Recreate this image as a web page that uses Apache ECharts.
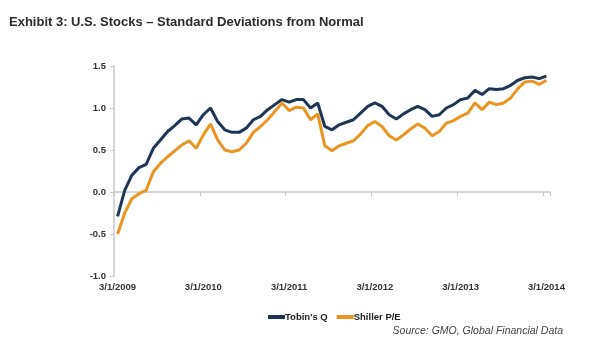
<!DOCTYPE html>
<html>
<head>
<meta charset="utf-8">
<script src="https://cdn.jsdelivr.net/npm/echarts@6/dist/echarts.min.js"></script>
<style>
  html, body { margin: 0; padding: 0; background: #fff; }
  #chart { width: 600px; height: 353px; }
</style>
</head>
<body>
<div id="chart"></div>
<script>
// monthly points, 3/1/2009 .. 3/1/2014
const months = [];
for (let y = 2009; y <= 2014; y++) {
  for (let m = 1; m <= 12; m++) {
    if ((y === 2009 && m < 3) || (y === 2014 && m > 3)) continue;
    months.push(m + '/1/' + y);
  }
}

const tobinsQ = [
  -0.29, 0.02, 0.20, 0.29, 0.33, 0.52, 0.62, 0.72, 0.79, 0.87,
  0.88, 0.80, 0.92, 1.00, 0.84, 0.74, 0.71, 0.71, 0.76, 0.86,
  0.90, 0.98, 1.04, 1.10, 1.07, 1.10, 1.10, 1.00, 1.06, 0.78,
  0.74, 0.80, 0.83, 0.86, 0.94, 1.02, 1.06, 1.02, 0.92, 0.87,
  0.93, 0.98, 1.02, 0.98, 0.90, 0.92, 1.00, 1.04, 1.10, 1.12,
  1.21, 1.16, 1.23, 1.22, 1.23, 1.27, 1.33, 1.36, 1.37, 1.35,
  1.38
];

const shillerPE = [
  -0.50, -0.25, -0.08, -0.02, 0.02, 0.24, 0.34, 0.42, 0.49, 0.56,
  0.61, 0.52, 0.68, 0.81, 0.62, 0.50, 0.48, 0.50, 0.58, 0.71,
  0.78, 0.86, 0.96, 1.06, 0.97, 1.01, 1.00, 0.86, 0.93, 0.55,
  0.49, 0.55, 0.58, 0.61, 0.69, 0.79, 0.84, 0.78, 0.67, 0.62,
  0.68, 0.75, 0.81, 0.76, 0.67, 0.72, 0.82, 0.85, 0.90, 0.94,
  1.06, 0.98, 1.07, 1.04, 1.06, 1.12, 1.23, 1.31, 1.32, 1.28,
  1.33
];

const navy = '#1d3557';
const orange = '#e9951f';
const gray = '#c8c8c8';
const textColor = '#333';

const chart = echarts.init(document.getElementById('chart'), null, { renderer: 'canvas' });

chart.setOption({
  animation: false,
  backgroundColor: '#fff',
  title: {
    text: 'Exhibit 3: U.S. Stocks \u2013 Standard Deviations from Normal',
    left: 4,
    top: 11,
    textStyle: { fontFamily: 'Liberation Sans, Arial', fontSize: 13, fontWeight: 'bold', color: '#2b2b2b' }
  },
  legend: {
    left: 263,
    top: 307,
    itemGap: 9,
    itemWidth: 17,
    itemHeight: 4,
    icon: 'rect',
    textStyle: { fontFamily: 'Liberation Sans, Arial', fontSize: 9.5, fontWeight: 'bold', color: '#222', padding: [0, 0, 0, -5] },
    data: ["Tobin's Q", 'Shiller P/E']
  },
  graphic: [{
    type: 'text',
    right: 37,
    top: 326,
    style: {
      text: 'Source: GMO, Global Financial Data',
      font: 'italic 10.5px "Liberation Sans", Arial',
      fill: '#444'
    }
  }],
  grid: { left: 114, right: 50, top: 66, bottom: 77, containLabel: false },
  xAxis: [{
    type: 'category',
    data: months,
    boundaryGap: true,
    position: 'bottom',
    axisLine: { show: false, onZero: false },
    axisTick: { show: false },
    axisLabel: {
      interval: 11,
      margin: 6,
      fontFamily: 'Liberation Sans, Arial',
      fontSize: 9.5,
      fontWeight: 'bold',
      color: textColor
    },
    splitLine: { show: false }
  }, {
    type: 'category',
    data: months,
    boundaryGap: true,
    position: 'bottom',
    axisLine: { show: true, onZero: true, lineStyle: { color: gray, width: 1.5 } },
    axisTick: { show: true, interval: 11, length: 4, lineStyle: { color: gray } },
    axisLabel: { show: false },
    splitLine: { show: false }
  }],
  yAxis: {
    type: 'value',
    min: -1,
    max: 1.5,
    interval: 0.5,
    axisLine: { show: true, lineStyle: { color: gray, width: 1.5 } },
    axisTick: { show: true, length: 4, lineStyle: { color: gray } },
    axisLabel: {
      margin: 8,
      formatter: v => v.toFixed(1),
      fontFamily: 'Liberation Sans, Arial',
      fontSize: 9.5,
      fontWeight: 'bold',
      color: textColor
    },
    splitLine: { show: false }
  },
  series: [{
    name: "Tobin's Q",
    type: 'line',
    xAxisIndex: 0,
    data: tobinsQ,
    symbol: 'none',
    lineStyle: { color: navy, width: 3 },
    itemStyle: { color: navy }
  }, {
    name: 'Shiller P/E',
    type: 'line',
    xAxisIndex: 0,
    data: shillerPE,
    symbol: 'none',
    lineStyle: { color: orange, width: 3 },
    itemStyle: { color: orange }
  }]
});
</script>
</body>
</html>
